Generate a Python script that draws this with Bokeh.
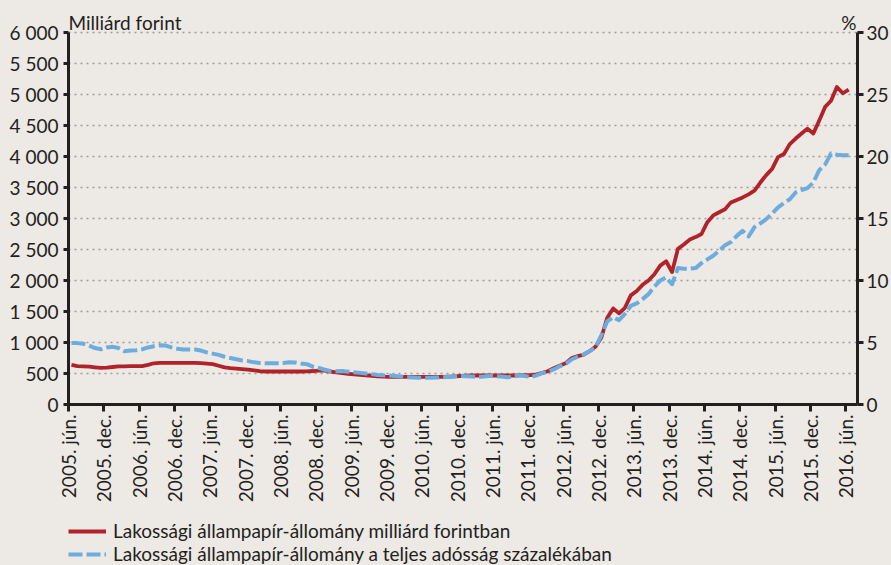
import math
import numpy as np
from bokeh.plotting import figure
from bokeh.layouts import column
from bokeh.models import (Range1d, LinearAxis, FixedTicker, Legend, LegendItem, Label)
from bokeh.embed import file_html
from bokeh.resources import INLINE

# ---------------- data (monthly, 2005 jún .. 2016 jún) ----------------
start_month = "2005-06"

# Lakossági állampapír-állomány, milliárd forint
red_values = [
    640, 620, 615, 610, 600, 590, 595,
    605, 615, 615, 618, 618, 620, 640, 665, 672, 672, 672, 672,
    672, 672, 672, 668, 660, 650, 625, 598, 585, 578, 570, 562,
    550, 537, 532, 532, 532, 532, 532, 532, 532, 535, 540, 548,
    545, 532, 520, 505, 495, 485, 478, 470, 462, 455, 448, 445,
    447, 447, 447, 445, 445, 445, 447, 447, 447, 450, 455, 460,
    465, 468, 468, 468, 468, 468, 468, 468, 468, 470, 472, 475,
    485, 510, 540, 590, 630, 670, 750, 780, 805, 860, 930, 1080,
    1400, 1550, 1470, 1560, 1760, 1830, 1930, 2000, 2100, 2240, 2310, 2135,
    2510, 2580, 2660, 2700, 2750, 2940, 3050, 3100, 3150, 3260, 3300, 3340,
    3390, 3450, 3580, 3700, 3800, 3990, 4040, 4200, 4290, 4370, 4450, 4370,
    4580, 4800, 4900, 5120, 5020, 5080,
]

# Lakossági állampapír-állomány a teljes adósság százalékában (%)
blue_values = [
    4.95, 4.95, 4.9, 4.75, 4.55, 4.45, 4.6,
    4.65, 4.55, 4.3, 4.35, 4.38, 4.45, 4.6, 4.7, 4.78, 4.75, 4.6, 4.5,
    4.43, 4.43, 4.43, 4.35, 4.2, 4.1, 4.0, 3.85, 3.75, 3.65, 3.55, 3.5,
    3.4, 3.35, 3.33, 3.33, 3.33, 3.35, 3.4, 3.38, 3.3, 3.25, 3.05, 2.95,
    2.8, 2.7, 2.68, 2.7, 2.65, 2.6, 2.55, 2.5, 2.45, 2.38, 2.35, 2.33,
    2.3, 2.25, 2.2, 2.17, 2.15, 2.15, 2.15, 2.17, 2.2, 2.22, 2.25, 2.3,
    2.28, 2.25, 2.22, 2.25, 2.3, 2.3, 2.25, 2.2, 2.25, 2.35, 2.3, 2.22,
    2.35, 2.55, 2.65, 2.85, 3.1, 3.3, 3.65, 3.85, 4.05, 4.3, 4.6, 5.6,
    6.7, 7.05, 6.8, 7.3, 7.95, 8.15, 8.5, 8.9, 9.5, 10.0, 10.25, 9.7,
    11.0, 10.95, 10.95, 11.0, 11.4, 11.7, 12.0, 12.4, 12.85, 13.1, 13.6, 14.0,
    13.55, 14.3, 14.6, 14.95, 15.4, 15.9, 16.25, 16.55, 17.1, 17.3, 17.45, 17.9,
    18.9, 19.35, 20.25, 20.15, 20.1, 20.1,
]

x_tick_labels = [
    "2005. jún.", "2005. dec.", "2006. jún.", "2006. dec.", "2007. jún.", "2007. dec.",
    "2008. jún.", "2008. dec.", "2009. jún.", "2009. dec.", "2010. jún.", "2010. dec.",
    "2011. jún.", "2011. dec.", "2012. jún.", "2012. dec.", "2013. jún.", "2013. dec.",
    "2014. jún.", "2014. dec.", "2015. jún.", "2015. dec.", "2016. jún.",
]
left_ticks = [0, 500, 1000, 1500, 2000, 2500, 3000, 3500, 4000, 4500, 5000, 5500, 6000]
right_ticks = [0, 5, 10, 15, 20, 25, 30]
left_max, right_max = 6000, 30

legend_labels = [
    "Lakossági állampapír-állomány milliárd forintban",
    "Lakossági állampapír-állomány a teljes adósság százalékában",
]
left_title = "Milliárd forint"
right_title = "%"

# ---------------- styling / layout ----------------
BG = "#EDE9E5"
RED = "#B0232A"
BLUE = "#6DADDD"
DARK = "#231F20"
FONT = "Lato"
FS = "19px"

W = 891
H_CHART, H_LEG = 510, 55
FRAME_LEFT = 68
RIGHT_BORDER = 32
FRAME_BOTTOM = 404          # pixel row of value 0
TOP_TICK_PX = 32            # pixel row of the highest tick (6000 / 30 %)
head = FRAME_BOTTOM / (FRAME_BOTTOM - TOP_TICK_PX)

n = len(red_values)
x = np.arange(n) + 0.5          # each month centred in its category slot
n_slots = n + 1

p = figure(width=W, height=H_CHART, output_backend="svg", toolbar_location=None,
           x_range=Range1d(0, n_slots), y_range=Range1d(0, left_max * head),
           min_border_left=FRAME_LEFT, min_border_right=RIGHT_BORDER,
           min_border_top=0, min_border_bottom=H_CHART - FRAME_BOTTOM)
p.background_fill_color = BG
p.border_fill_color = BG
p.outline_line_color = None

p.extra_y_ranges = {"pct": Range1d(0, right_max * head)}

# grid
p.xgrid.visible = False
p.ygrid.ticker = FixedTicker(ticks=left_ticks)
p.ygrid.grid_line_color = "#9C9C9C"
p.ygrid.grid_line_dash = "2 4"
p.ygrid.grid_line_width = 1.3

# left axis
ya = p.yaxis[0]
ya.ticker = FixedTicker(ticks=left_ticks)
ya.bounds = (0, left_max)
ya.major_label_overrides = {v: f"{v:,}".replace(",", " ") for v in left_ticks}
# x axis
xa = p.xaxis[0]
x_ticks = list(range(0, 6 * len(x_tick_labels), 6))
xa.ticker = FixedTicker(ticks=x_ticks)
xa.major_label_overrides = {t: lab for t, lab in zip(x_ticks, x_tick_labels)}
xa.major_label_orientation = math.pi / 2

# right axis
ra = LinearAxis(y_range_name="pct", ticker=FixedTicker(ticks=right_ticks),
                bounds=(0, right_max))
p.add_layout(ra, "right")

for ax in (ya, xa, ra):
    ax.axis_line_color = DARK
    ax.axis_line_width = 3
    ax.major_tick_line_color = DARK
    ax.major_tick_line_width = 3
    ax.major_tick_in = 0
    ax.major_tick_out = 5
    ax.minor_tick_in = 0
    ax.minor_tick_out = 0
    ax.minor_tick_line_color = None
    ax.axis_label_standoff = 0
    ax.major_label_text_font = FONT
    ax.major_label_text_font_size = FS
    ax.major_label_text_color = DARK
    ax.major_label_standoff = 5
xa.major_tick_out = 7
xa.major_label_standoff = 3
ra.major_tick_out = 6
ra.major_label_standoff = 3

# lines
r_red = p.line(x, red_values, line_color=RED, line_width=3.8, line_join="round")
r_blue = p.line(x, blue_values, y_range_name="pct", line_color=BLUE, line_width=4,
                line_dash="14 4", line_join="round")

# unit titles above the top gridline
p.add_layout(Label(x=0, y=left_max, text=left_title, y_offset=10, text_font=FONT,
                   text_font_size=FS, text_color=DARK, text_baseline="alphabetic",
                   text_align="left"))
p.add_layout(Label(x=n_slots, y=left_max, text=right_title, x_offset=-1, y_offset=10,
                   text_font=FONT, text_font_size=FS, text_color=DARK,
                   text_baseline="alphabetic", text_align="right"))

# ---------------- legend strip under the chart ----------------
q = figure(width=W, height=H_LEG, output_backend="svg", toolbar_location=None,
           x_range=Range1d(0, 1), y_range=Range1d(0, 1),
           x_axis_type=None, y_axis_type=None,
           min_border_left=FRAME_LEFT, min_border_right=0,
           min_border_top=0, min_border_bottom=0)
q.background_fill_color = BG
q.border_fill_color = BG
q.outline_line_color = None
q.grid.visible = False
# same series, but they fall outside this strip's ranges: only their legend swatches show
l_red = q.line(x, red_values, line_color=RED, line_width=3.8)
l_blue = q.line(x, red_values, line_color=BLUE, line_width=4, line_dash="14 4")

legend = Legend(items=[LegendItem(label=legend_labels[0], renderers=[l_red]),
                       LegendItem(label=legend_labels[1], renderers=[l_blue])],
                location="bottom_left", orientation="vertical")
legend.background_fill_alpha = 0
legend.border_line_alpha = 0
legend.padding = 0
legend.margin = 0
legend.spacing = 0
legend.glyph_width = 38
legend.glyph_height = 22
legend.label_height = 22
legend.label_standoff = 7
legend.label_text_font = FONT
legend.label_text_font_size = FS
legend.label_text_color = DARK
q.add_layout(legend, "center")

layout = column(p, q, spacing=0)
html = file_html(layout, INLINE)
html = html.replace("</head>", f"<style>html,body{{background:{BG};}}</style></head>", 1)
open("out.html", "w").write(html)
